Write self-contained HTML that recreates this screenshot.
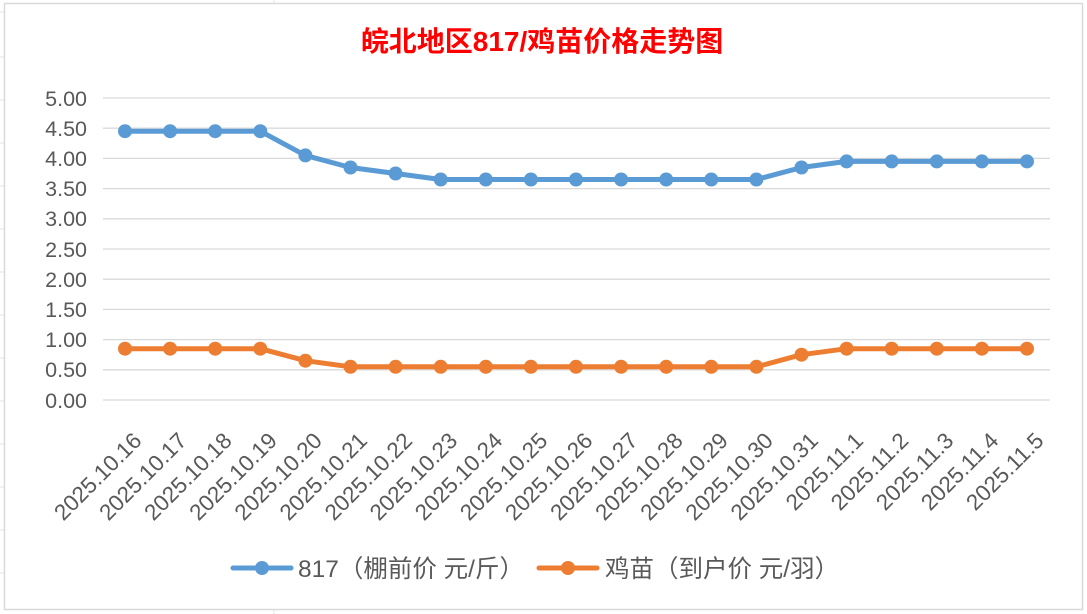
<!DOCTYPE html>
<html><head><meta charset="utf-8"><style>
body{margin:0;background:#fff;width:1087px;height:614px;overflow:hidden}
svg{display:block}
text{font-family:"Liberation Sans","Noto Sans CJK SC",sans-serif;fill:#595959}
</style></head><body>
<svg width="1087" height="614" viewBox="0 0 1087 614" xmlns="http://www.w3.org/2000/svg">
<rect x="0" y="0" width="1087" height="614" fill="#fff"/>
<g stroke="#e3e3e3" stroke-width="1">
<line x1="0" y1="12" x2="4" y2="12"/><line x1="0" y1="57" x2="4" y2="57"/><line x1="0" y1="100" x2="4" y2="100"/>
<line x1="0" y1="143" x2="4" y2="143"/><line x1="0" y1="186" x2="4" y2="186"/><line x1="0" y1="229" x2="4" y2="229"/>
<line x1="0" y1="272" x2="4" y2="272"/><line x1="0" y1="315" x2="4" y2="315"/><line x1="0" y1="358" x2="4" y2="358"/>
<line x1="0" y1="401" x2="4" y2="401"/><line x1="0" y1="444" x2="4" y2="444"/><line x1="0" y1="487" x2="4" y2="487"/>
<line x1="0" y1="530" x2="4" y2="530"/><line x1="0" y1="573" x2="4" y2="573"/>
<line x1="274" y1="0" x2="274" y2="3"/><line x1="274" y1="610" x2="274" y2="614"/>
</g>
<rect x="4.5" y="3.5" width="1078" height="606" fill="#fff" stroke="#d9d9d9" stroke-width="1.5"/>
<text x="542" y="51" text-anchor="middle" style="font-size:28px;font-weight:bold;fill:#ff0000">皖北地区817/鸡苗价格走势图</text>
<g stroke="#d9d9d9" stroke-width="1.3">
<line x1="103" y1="98" x2="1050" y2="98"/><line x1="103" y1="128.2" x2="1050" y2="128.2"/>
<line x1="103" y1="158.4" x2="1050" y2="158.4"/><line x1="103" y1="188.6" x2="1050" y2="188.6"/>
<line x1="103" y1="218.8" x2="1050" y2="218.8"/><line x1="103" y1="249" x2="1050" y2="249"/>
<line x1="103" y1="279.2" x2="1050" y2="279.2"/><line x1="103" y1="309.4" x2="1050" y2="309.4"/>
<line x1="103" y1="339.6" x2="1050" y2="339.6"/><line x1="103" y1="369.8" x2="1050" y2="369.8"/>
<line x1="103" y1="400" x2="1050" y2="400"/>
</g>
<g style="font-size:21.5px" text-anchor="end">
<text x="87" y="106">5.00</text><text x="87" y="136">4.50</text><text x="87" y="166">4.00</text>
<text x="87" y="196">3.50</text><text x="87" y="226">3.00</text><text x="87" y="257">2.50</text>
<text x="87" y="287">2.00</text><text x="87" y="317">1.50</text><text x="87" y="347">1.00</text>
<text x="87" y="377">0.50</text><text x="87" y="408">0.00</text>
</g>
<polyline fill="none" stroke="#5b9bd5" stroke-width="5" stroke-linejoin="round" points="125,131.2 170.1,131.2 215.2,131.2 260.3,131.2 305.4,155.4 350.5,167.5 395.6,173.5 440.7,179.5 485.8,179.5 530.9,179.5 576,179.5 621.1,179.5 666.2,179.5 711.3,179.5 756.4,179.5 801.5,167.5 846.6,161.4 891.7,161.4 936.8,161.4 981.9,161.4 1027,161.4"/>
<g fill="#5b9bd5">
<circle cx="125" cy="131.2" r="7"/><circle cx="170.1" cy="131.2" r="7"/><circle cx="215.2" cy="131.2" r="7"/><circle cx="260.3" cy="131.2" r="7"/><circle cx="305.4" cy="155.4" r="7"/><circle cx="350.5" cy="167.5" r="7"/><circle cx="395.6" cy="173.5" r="7"/><circle cx="440.7" cy="179.5" r="7"/><circle cx="485.8" cy="179.5" r="7"/><circle cx="530.9" cy="179.5" r="7"/><circle cx="576" cy="179.5" r="7"/><circle cx="621.1" cy="179.5" r="7"/><circle cx="666.2" cy="179.5" r="7"/><circle cx="711.3" cy="179.5" r="7"/><circle cx="756.4" cy="179.5" r="7"/><circle cx="801.5" cy="167.5" r="7"/><circle cx="846.6" cy="161.4" r="7"/><circle cx="891.7" cy="161.4" r="7"/><circle cx="936.8" cy="161.4" r="7"/><circle cx="981.9" cy="161.4" r="7"/><circle cx="1027" cy="161.4" r="7"/>
</g>
<polyline fill="none" stroke="#ed7d31" stroke-width="5" stroke-linejoin="round" points="125,348.7 170.1,348.7 215.2,348.7 260.3,348.7 305.4,360.7 350.5,366.8 395.6,366.8 440.7,366.8 485.8,366.8 530.9,366.8 576,366.8 621.1,366.8 666.2,366.8 711.3,366.8 756.4,366.8 801.5,354.7 846.6,348.7 891.7,348.7 936.8,348.7 981.9,348.7 1027,348.7"/>
<g fill="#ed7d31">
<circle cx="125" cy="348.7" r="7"/><circle cx="170.1" cy="348.7" r="7"/><circle cx="215.2" cy="348.7" r="7"/><circle cx="260.3" cy="348.7" r="7"/><circle cx="305.4" cy="360.7" r="7"/><circle cx="350.5" cy="366.8" r="7"/><circle cx="395.6" cy="366.8" r="7"/><circle cx="440.7" cy="366.8" r="7"/><circle cx="485.8" cy="366.8" r="7"/><circle cx="530.9" cy="366.8" r="7"/><circle cx="576" cy="366.8" r="7"/><circle cx="621.1" cy="366.8" r="7"/><circle cx="666.2" cy="366.8" r="7"/><circle cx="711.3" cy="366.8" r="7"/><circle cx="756.4" cy="366.8" r="7"/><circle cx="801.5" cy="354.7" r="7"/><circle cx="846.6" cy="348.7" r="7"/><circle cx="891.7" cy="348.7" r="7"/><circle cx="936.8" cy="348.7" r="7"/><circle cx="981.9" cy="348.7" r="7"/><circle cx="1027" cy="348.7" r="7"/>
</g>
<g style="font-size:22.5px" text-anchor="end">
<text transform="translate(143,442) rotate(-45)">2025.10.16</text>
<text transform="translate(188.1,442) rotate(-45)">2025.10.17</text>
<text transform="translate(233.2,442) rotate(-45)">2025.10.18</text>
<text transform="translate(278.3,442) rotate(-45)">2025.10.19</text>
<text transform="translate(323.4,442) rotate(-45)">2025.10.20</text>
<text transform="translate(368.5,442) rotate(-45)">2025.10.21</text>
<text transform="translate(413.6,442) rotate(-45)">2025.10.22</text>
<text transform="translate(458.7,442) rotate(-45)">2025.10.23</text>
<text transform="translate(503.8,442) rotate(-45)">2025.10.24</text>
<text transform="translate(548.9,442) rotate(-45)">2025.10.25</text>
<text transform="translate(594,442) rotate(-45)">2025.10.26</text>
<text transform="translate(639.1,442) rotate(-45)">2025.10.27</text>
<text transform="translate(684.2,442) rotate(-45)">2025.10.28</text>
<text transform="translate(729.3,442) rotate(-45)">2025.10.29</text>
<text transform="translate(774.4,442) rotate(-45)">2025.10.30</text>
<text transform="translate(819.5,442) rotate(-45)">2025.10.31</text>
<text transform="translate(864.6,442) rotate(-45)">2025.11.1</text>
<text transform="translate(909.7,442) rotate(-45)">2025.11.2</text>
<text transform="translate(954.8,442) rotate(-45)">2025.11.3</text>
<text transform="translate(999.9,442) rotate(-45)">2025.11.4</text>
<text transform="translate(1045,442) rotate(-45)">2025.11.5</text>
</g>
<line x1="233" y1="568" x2="291" y2="568" stroke="#5b9bd5" stroke-width="5" stroke-linecap="round"/>
<circle cx="262" cy="568" r="7" fill="#5b9bd5"/>
<text x="298" y="577" style="font-size:24.5px">817（棚前价 元/斤）</text>
<line x1="539" y1="568" x2="597" y2="568" stroke="#ed7d31" stroke-width="5" stroke-linecap="round"/>
<circle cx="568" cy="568" r="7" fill="#ed7d31"/>
<text x="605" y="577" style="font-size:24.5px">鸡苗（到户价 元/羽）</text>
</svg>
</body></html>
